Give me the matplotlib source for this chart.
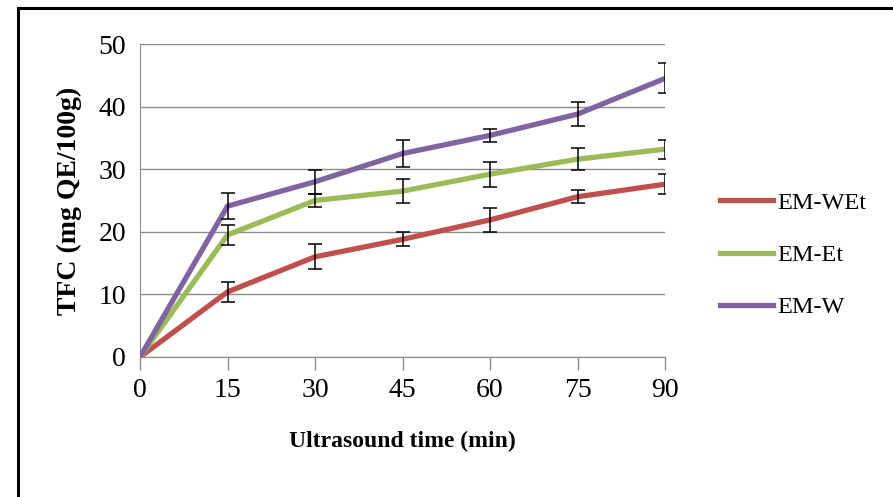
import matplotlib.pyplot as plt
from matplotlib.lines import Line2D

plt.rcParams['font.family'] = ['Liberation Serif', 'DejaVu Serif']

time = [0, 15, 30, 45, 60, 75, 90]

em_wet = [0, 10.4, 16.0, 18.8, 21.9, 25.6, 27.6]
em_wet_err = [0, 1.65, 2.0, 1.1, 1.9, 1.0, 1.6]

em_et = [0, 19.5, 25.0, 26.5, 29.2, 31.6, 33.2]
em_et_err = [0, 1.65, 1.0, 1.9, 2.0, 1.8, 1.5]

em_w = [0, 24.1, 28.0, 32.5, 35.4, 38.8, 44.5]
em_w_err = [0, 2.05, 1.9, 2.1, 1.0, 1.9, 2.4]

labels = ['EM-WEt', 'EM-Et', 'EM-W']
colors = ['#C0504D', '#9BBB59', '#8064A2']

fig = plt.figure(figsize=(8.93, 4.97), dpi=100)
ax = fig.add_axes([140/893, 1 - 357/497, 525/893, 313/497])

series = [(em_wet, em_wet_err), (em_et, em_et_err), (em_w, em_w_err)]
handles = []
for (vals, errs), lab, c in zip(series, labels, colors):
    ln, = ax.plot(time, vals, color=c, lw=3.8, solid_joinstyle='round', zorder=3, label=lab)
    ax.errorbar(time[1:], vals[1:], yerr=errs[1:], fmt='none', ecolor='black',
                elinewidth=1.1, capsize=5, capthick=1.1, zorder=4)
    handles.append(ln)

ax.set_xlim(0, 90)
ax.set_ylim(0, 50)
ax.set_xticks(time)
ax.set_yticks(range(0, 51, 10))
ax.grid(axis='y', color='#8c8c8c', lw=1.0)
ax.set_axisbelow(True)
for s in ['top', 'right']:
    ax.spines[s].set_visible(False)
for s in ['left', 'bottom']:
    ax.spines[s].set_color('#8c8c8c')
ax.tick_params(axis='x', length=9, width=1, color='#8c8c8c', direction='out',
               labelsize=20, pad=6)
ax.tick_params(axis='y', length=0, labelsize=20, pad=10)

ax.set_xlabel('Ultrasound time (min)', fontsize=17, fontweight='bold', labelpad=20)
ax.set_ylabel('TFC (mg QE/100g)', fontsize=20, fontweight='bold', labelpad=12)

fig.legend(handles=handles, loc='center left', bbox_to_anchor=(710/893, 1 - 255/497),
           frameon=False, fontsize=17.5, handlelength=2.2, handletextpad=0.15,
           labelspacing=1.25, borderaxespad=0)

# outer frame of the original figure
fig.add_artist(Line2D([18/893, 18/893], [0, 1 - 8/497], color='black', lw=2.2,
                      transform=fig.transFigure))
fig.add_artist(Line2D([18/893, 1], [1 - 8/497, 1 - 8/497], color='black', lw=2.2,
                      transform=fig.transFigure))

fig.savefig('out.png', dpi=100)
